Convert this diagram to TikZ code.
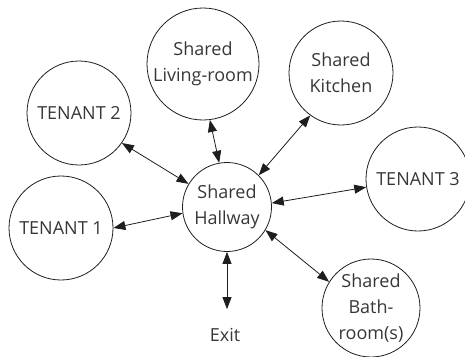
\documentclass[tikz,border=0pt]{standalone}
\usepackage{fontspec}
\setmainfont{Open Sans}
\usetikzlibrary{positioning,arrows.meta}
\definecolor{roomText}{RGB}{55,55,55}
\definecolor{roomLine}{RGB}{30,30,30}
\tikzset{
    base/.style={font=\fontsize{18}{26}\selectfont, align=center, text=roomText},
    room/.style={base, circle, draw=roomLine, line width=0.8pt, inner sep=0pt},
    link/.style={{Triangle[length=12pt,width=9pt]}-{Triangle[length=12pt,width=9pt]}, line width=0.8pt, color=roomLine}
}
\begin{document}
\begin{tikzpicture}[x=1pt, y=-1pt]
  \clip (0,0) rectangle (465,356);
  \useasboundingbox (0,0) rectangle (465,356);

  % Nodes
  \node[room, minimum size=89pt] (hall) at (227,207) {Shared\\Hallway};
  \node[room, minimum size=104pt] (t1) at (61,228) {TENANT 1};
  \node[room, minimum size=104pt] (t2) at (79,113) {TENANT 2};
  \node[room, minimum size=104pt] (t3) at (418,179) {TENANT 3};
  \node[room, minimum size=112pt] (living) at (203,64) {Shared\\Living-room};
  \node[room, minimum size=104pt] (kitchen) at (341,73) {Shared\\Kitchen};
  \node[room, minimum size=98pt] (bath) at (371,308) {Shared\\Bath-\\room(s)};
  \node[base, inner sep=2pt] (exit) at (225,335) {Exit};

  % Edges
  \draw[link] (hall.188) -- (t1.0);
  \draw[link] (hall.149) -- (t2.325);
  \draw[link] (hall.100) -- (living.277);
  \draw[link] (hall.45) -- (kitchen.234);
  \draw[link] (hall.5) -- (t3.189);
  \draw[link] (hall.329) -- (bath.148);
  \draw[link, shorten >=17pt] (hall.270) -- (hall.270 |- exit.north);

\end{tikzpicture}
\end{document}
